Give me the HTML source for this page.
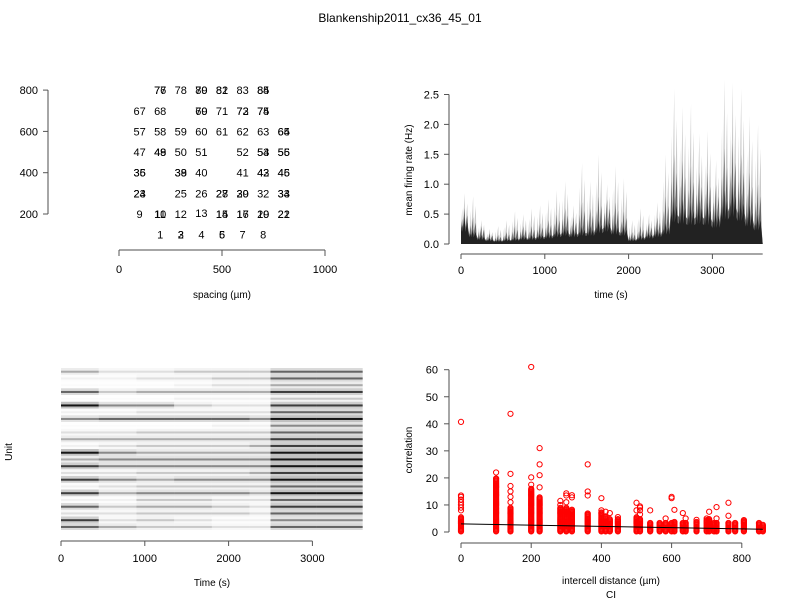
<!DOCTYPE html>
<html><head><meta charset="utf-8"><style>
body{margin:0;background:#fff}
svg{display:block;font-family:"Liberation Sans",sans-serif}
text{fill:#000}
</style></head><body>
<svg id="c" width="800" height="600" viewBox="0 0 800 600">
<text x="400" y="22" font-size="12" text-anchor="middle">Blankenship2011_cx36_45_01</text>
<g id="p1"></g>
<g id="p2"></g>
<g id="p3"></g>
<g id="p4"></g>
</svg>
<script>
// ---- panel 1 data: electrode layout
const layoutLabels = ["76","78","80","82","83","85","77","79","81","84","67","68","70","71","73","75","69","72","74","57","58","59","60","61","62","63","65","64","47","48","50","51","52","53","55","49","54","56","35","38","40","41","42","46","36","39","43","45","23","25","26","28","29","32","34","24","27","30","33","9","10","12","13","15","16","20","22","11","14","17","19","21","1","3","4","6","7","8","2","5"];
const layoutX = [200,300,400,500,600,700,200,400,500,700,100,200,400,500,600,700,400,600,700,100,200,300,400,500,600,700,800,800,100,200,300,400,600,700,800,200,700,800,100,300,400,600,700,800,100,300,700,800,100,300,400,500,600,700,800,100,500,600,800,100,200,300,400,500,600,700,800,200,500,600,700,800,200,300,400,500,600,700,300,500];
const layoutY = [800,800,800,800,800,800,800,800,800,800,700,700,700,700,700,700,700,700,700,600,600,600,600,600,600,600,600,600,500,500,500,500,500,500,500,500,500,500,400,400,400,400,400,400,400,400,400,400,300,300,300,300,300,300,300,300,300,300,300,200,200,200,205,200,200,200,200,200,200,200,200,200,100,100,100,100,100,100,100,100];
const p1XTicks=[0,500,1000], p1YTicks=[200,400,600,800];

// ---- panel 2 data: mean firing rate, per 100 s
const rateTimes=[0,100,200,300,400,500,600,700,800,900,1000,1100,1200,1300,1400,1500,1600,1700,1800,1900,2000,2100,2200,2300,2400,2500,2600,2700,2800,2900,3000,3100,3200,3300,3400,3500];
const ratePeak=[0.85,0.8,0.4,0.25,0.3,0.4,0.55,0.5,0.6,0.65,0.75,0.9,1.05,0.65,1.35,1.05,1.5,1.0,1.3,1.1,0.4,0.6,0.5,0.7,1.5,2.6,2.3,2.35,1.85,1.9,1.4,2.75,2.7,2.6,2.15,2.0];
const rateMid=[0.6,0.45,0.3,0.18,0.15,0.2,0.3,0.3,0.3,0.35,0.4,0.5,0.6,0.45,0.7,0.6,0.8,0.75,0.7,0.55,0.2,0.3,0.35,0.45,0.8,1.5,1.4,1.3,1.2,1.2,1.0,1.6,1.7,1.5,1.2,1.0];
const rateBase=[0.45,0.25,0.15,0.1,0.08,0.1,0.12,0.15,0.15,0.18,0.2,0.25,0.3,0.25,0.3,0.3,0.4,0.45,0.35,0.3,0.1,0.15,0.2,0.25,0.35,0.8,0.75,0.7,0.75,0.7,0.6,0.9,1.0,0.85,0.65,0.5];
const p2XTicks=[0,1000,2000,3000], p2YTicks=["0.0","0.5","1.0","1.5","2.0","2.5"];

// ---- panel 3 data: raster density per unit per time segment
const rasterSegEdges=[0,450,900,1350,1800,2250,2500,3050,3600];
const rasterDensity=[
[.5,.3,.3,.4,.4,.4,.7,.7],[.2,.2,.3,.3,.4,.4,.7,.7],[.1,.1,.1,.2,.3,.3,.5,.5],[.7,.4,.5,.5,.5,.5,.8,.8],
[.1,.1,.1,.2,.2,.2,.4,.4],[.9,.6,.6,.4,.3,.3,.8,.8],[.2,.2,.3,.3,.3,.3,.7,.7],[.6,.7,.7,.7,.7,.6,.9,.9],
[.1,.1,.1,.1,.2,.2,.6,.6],[.3,.3,.4,.4,.4,.4,.7,.7],[.5,.5,.5,.5,.5,.5,.8,.8],[.2,.3,.4,.4,.4,.5,.8,.8],
[.9,.6,.5,.5,.5,.5,.9,.9],[.5,.6,.6,.6,.6,.6,.9,.9],[.8,.6,.6,.6,.6,.6,.9,.9],[.3,.3,.4,.4,.4,.5,.8,.8],
[.8,.6,.5,.6,.6,.6,.9,.9],[.2,.3,.4,.4,.4,.4,.7,.7],[.8,.5,.6,.6,.6,.5,.9,.9],[.2,.2,.4,.4,.3,.3,.7,.7],
[.7,.4,.5,.5,.4,.3,.8,.8],[.3,.3,.4,.4,.4,.3,.7,.7],[.8,.3,.4,.3,.2,.2,.6,.6],[.7,.5,.4,.4,.3,.3,.7,.7]];
const p3XTicks=[0,1000,2000,3000];

// ---- panel 4 data: correlation vs intercell distance
const distances=[0,100,141,200,224,283,300,316,361,400,412,424,447,500,510,539,566,583,600,608,632,640,671,700,707,721,728,762,781,806,849,860];
const denseMax=[5.5,20,9,16,13,9,9,8.5,7,7.5,6,5,5,5.5,5,3.5,3.5,3.5,3.5,4,3.5,3.5,4,4.5,5,3.5,3.5,3.5,3.5,4.5,3.5,3];
const outliers=[[8,9,10,11,12,13,13.5,40.7],[22],[11,13,15,17,21.5,43.7],[17.5,20.2,61],[16.5,21,25,31],[10,11.5],[11,13.5,14.3],[12.8,13.6],[13.5,15,25],[8,12.5],[7.5],[7],[5.5],[8,10.8],[6.5,8,9,9.5],[8],[],[5],[12.5,13],[8.2],[7],[5],[4.5],[5],[7.5],[],[5,9.2],[6,10.8],[],[],[],[]];
const fitLine=[[0,3],[860,1]];
const p4XTicks=[0,200,400,600,800], p4YTicks=[0,10,20,30,40,50,60];

const NS="http://www.w3.org/2000/svg";
function mk(parent,tag,attrs,txt){const e=document.createElementNS(NS,tag);for(const k in attrs)e.setAttribute(k,attrs[k]);if(txt!==undefined)e.textContent=txt;parent.appendChild(e);return e;}
const AX="#888";

// ---------- panel 1
(function(){
const g=document.getElementById('p1');
const sx=v=>119+v*0.206, sy=v=>214-(v-200)*0.2065;
const ya=mk(g,'line',{x1:48,y1:sy(200),x2:48,y2:sy(800),stroke:AX,'stroke-width':1.5});

p1YTicks.forEach(v=>{
 const t=mk(g,'line',{x1:43,x2:48,y1:sy(v),y2:sy(v),stroke:'#555'});
 
 const l=mk(g,'text',{x:38,y:sy(v)+4,'font-size':11,'text-anchor':'end'},String(v));
 
});
const xa=mk(g,'line',{x1:sx(0),x2:sx(1000),y1:250,y2:250,stroke:AX,'stroke-width':1.5});

p1XTicks.forEach(v=>{
 const t=mk(g,'line',{x1:sx(v),x2:sx(v),y1:250,y2:256,stroke:'#555'});
 
 const l=mk(g,'text',{x:sx(v),y:273,'font-size':11,'text-anchor':'middle'},String(v));
 
});
const xt=mk(g,'text',{x:222,y:298,'font-size':10,'text-anchor':'middle'},'spacing (µm)');

layoutLabels.forEach((s,i)=>{
 const l=mk(g,'text',{x:sx(layoutX[i]),y:sy(layoutY[i])+4,'font-size':11,'text-anchor':'middle'},s);
 
});
})();

// ---------- panel 2
(function(){
const g=document.getElementById('p2');
const sx=v=>461+v*0.0838, sy=v=>244-v*59.8;
function layer(arr,fill,name,frac){
 let pts=[[sx(0),sy(0)]];
 rateTimes.forEach((t,i)=>{
  const b=rateBase[i]*frac;
  pts.push([sx(t),sy(b)]);pts.push([sx(t+15),sy(arr[i]*0.7)]);pts.push([sx(t+20),sy(b)]);
  pts.push([sx(t+45),sy(arr[i])]);pts.push([sx(t+50),sy(b)]);pts.push([sx(t+75),sy(arr[i]*0.8)]);pts.push([sx(t+85),sy(b)]);
 });
 pts.push([sx(3600),sy(0)]);
 const p=mk(g,'polygon',{points:pts.map(p=>p.join(',')).join(' '),fill:fill});
 
}
layer(ratePeak,'#c8c8c8','rate-peaks',0.6);
layer(rateMid,'#666','rate-mid',0.6);
layer(rateBase,'#222','rate-base',0.45);
const ya=mk(g,'line',{x1:449,y1:sy(0),x2:449,y2:sy(2.5),stroke:AX,'stroke-width':1.5});

p2YTicks.forEach(s=>{const v=parseFloat(s);
 const t=mk(g,'line',{x1:444,x2:449,y1:sy(v),y2:sy(v),stroke:'#555'});
 
 const l=mk(g,'text',{x:439,y:sy(v)+4,'font-size':11,'text-anchor':'end'},s);
 
});
const xa=mk(g,'line',{x1:sx(0),x2:sx(3600),y1:254,y2:254,stroke:AX,'stroke-width':1.5});

p2XTicks.forEach(v=>{
 const t=mk(g,'line',{x1:sx(v),x2:sx(v),y1:254,y2:259,stroke:'#555'});
 
 const l=mk(g,'text',{x:sx(v),y:274,'font-size':11,'text-anchor':'middle'},String(v));
 
});
const xt=mk(g,'text',{x:611,y:298,'font-size':10,'text-anchor':'middle'},'time (s)');

const yt=mk(g,'text',{x:0,y:0,'font-size':10,'text-anchor':'middle',transform:'translate(412,170) rotate(-90)'},'mean firing rate (Hz)');

})();

// ---------- panel 3
(function(){
const g=document.getElementById('p3');
const sx=v=>61+v*0.0838;
const top=368, bot=530, n=rasterDensity.length, h=(bot-top)/n;
rasterDensity.forEach((row,r)=>{
 row.forEach((d,s)=>{
  const x0=sx(rasterSegEdges[s]), x1=sx(rasterSegEdges[s+1]);
  const bg=mk(g,'rect',{x:x0,y:top+r*h,width:x1-x0,height:h,fill:'#000','fill-opacity':d*d*0.3});
  
  const ln=mk(g,'rect',{x:x0,y:top+r*h+h*0.4,width:x1-x0,height:h*0.3,fill:'#000','fill-opacity':Math.min(1,d*d*1.1)});
  
 });
});
const xa=mk(g,'line',{x1:sx(0),x2:sx(3000),y1:541,y2:541,stroke:AX,'stroke-width':1.5});

p3XTicks.forEach(v=>{
 const t=mk(g,'line',{x1:sx(v),x2:sx(v),y1:541,y2:546,stroke:'#555'});
 
 const l=mk(g,'text',{x:sx(v),y:562,'font-size':11,'text-anchor':'middle'},String(v));
 
});
const xt=mk(g,'text',{x:212,y:586,'font-size':10,'text-anchor':'middle'},'Time (s)');

const yt=mk(g,'text',{x:0,y:0,'font-size':10,'text-anchor':'middle',transform:'translate(12,452) rotate(-90)'},'Unit');

})();

// ---------- panel 4
(function(){
const g=document.getElementById('p4');
const sx=v=>461+v*0.351, sy=v=>532-v*2.705;
distances.forEach((d,i)=>{
 const vals=[];
 for(let v=0.2;v<=denseMax[i];v+=0.35)vals.push(v);
 outliers[i].forEach(v=>vals.push(v));
 vals.forEach(v=>{
  const c=mk(g,'circle',{cx:sx(d),cy:sy(v),r:2.6,fill:'none',stroke:'#f00','stroke-width':1});
  
 });
});
const fl=mk(g,'line',{x1:sx(fitLine[0][0]),y1:sy(fitLine[0][1]),x2:sx(fitLine[1][0]),y2:sy(fitLine[1][1]),stroke:'#000','stroke-width':1});

const ya=mk(g,'line',{x1:449,y1:sy(0),x2:449,y2:sy(60),stroke:AX,'stroke-width':1.5});

p4YTicks.forEach(v=>{
 const t=mk(g,'line',{x1:444,x2:449,y1:sy(v),y2:sy(v),stroke:'#555'});
 
 const l=mk(g,'text',{x:438,y:sy(v)+4,'font-size':11,'text-anchor':'end'},String(v));
 
});
const xa=mk(g,'line',{x1:sx(0),x2:sx(800),y1:543,y2:543,stroke:AX,'stroke-width':1.5});

p4XTicks.forEach(v=>{
 const t=mk(g,'line',{x1:sx(v),x2:sx(v),y1:543,y2:548,stroke:'#555'});
 
 const l=mk(g,'text',{x:sx(v),y:562,'font-size':11,'text-anchor':'middle'},String(v));
 
});
const xt=mk(g,'text',{x:611,y:584,'font-size':10,'text-anchor':'middle'},'intercell distance (µm)');

const ct=mk(g,'text',{x:611,y:598,'font-size':10,'text-anchor':'middle'},'CI');

const yt=mk(g,'text',{x:0,y:0,'font-size':10,'text-anchor':'middle',transform:'translate(412,450) rotate(-90)'},'correlation');

})();
</script>
</body></html>
